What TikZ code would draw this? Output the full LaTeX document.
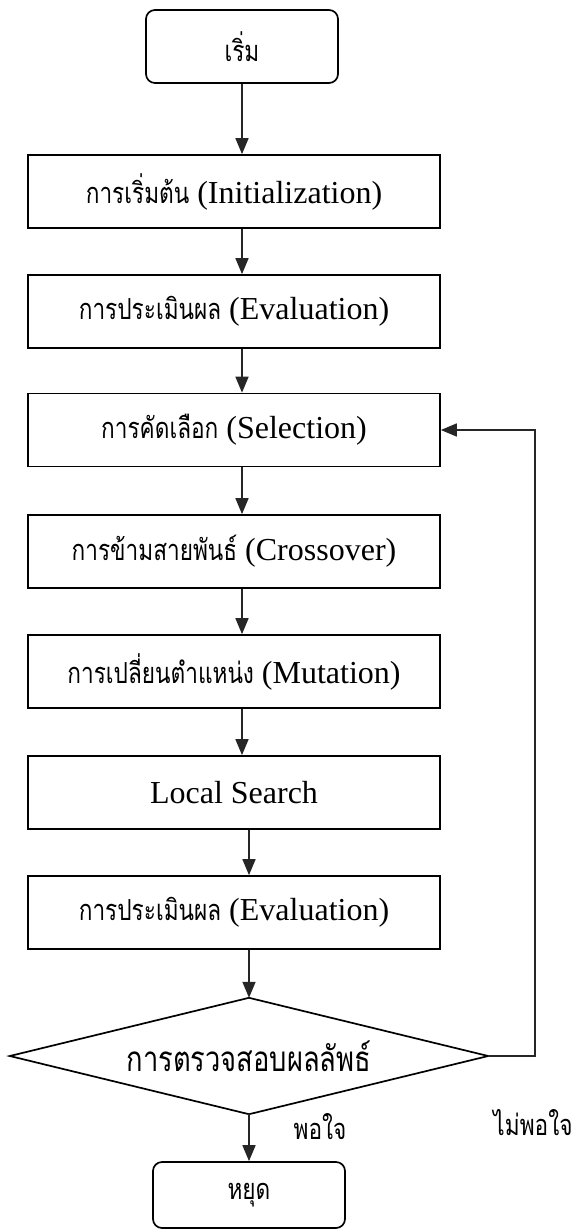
\documentclass[tikz,border=0pt]{standalone}
\usepackage{fontspec}
\setmainfont{Liberation Serif}
\newfontfamily\thai[Script=Thai,FakeStretch=0.78]{Loma}
\newcommand{\thsz}{\thai\fontsize{29}{34}\selectfont}
\usetikzlibrary{arrows.meta,calc}
\begin{document}
\begin{tikzpicture}[x=1pt,y=-1pt,
  font=\fontsize{32}{37}\selectfont,
  proc/.style={draw,line width=1.7pt,minimum width=412pt,minimum height=73pt,inner sep=0pt},
  term/.style={draw,line width=1.7pt,rounded corners=9pt,minimum width=192pt,inner sep=0pt},
  arr/.style={line width=1.7pt,draw=black!85,-{Triangle[length=16pt,width=13pt]}},
  th/.style={font=\thsz}]
\useasboundingbox (0,0) rectangle (571,1231);
\node[term,minimum height=73pt,th] (start) at (242,46.5) {เริ่ม};
\node[proc] (b1) at (234,191.5) {{\thsz การเริ่มต้น} (Initialization)};
\node[proc] (b2) at (234,311.5) {{\thsz การประเมินผล} (Evaluation)};
\node[proc] (b3) at (234,430) {{\thsz การคัดเลือก} (Selection)};
\node[proc] (b4) at (234,551.5) {{\thsz การข้ามสายพันธ์} (Crossover)};
\node[proc] (b5) at (234,671.5) {{\thsz การเปลี่ยนตำแหน่ง} (Mutation)};
\node[proc] (b6) at (234,792.5) {Local Search};
\node[proc] (b7) at (234,912.5) {{\thsz การประเมินผล} (Evaluation)};
\node[minimum width=478pt,minimum height=116pt,inner sep=0pt,font=\thai\fontsize{35}{40}\selectfont] (d) at (249,1056) {การตรวจสอบผลลัพธ์};
\draw[line width=1.7pt,line join=miter] (d.west) -- (d.north) -- (d.east) -- (d.south) -- cycle;
\node[term,minimum height=66pt,th] (stop) at (249,1195) {หยุด};
\node[th] (no) at (533,1123) {ไม่พอใจ};
\node[th] (yes) at (320,1127) {พอใจ};
\coordinate (lp) at (535,430);
\draw[arr] (start.south) -- (start.south |- b1.north);
\draw[arr] (b1.south -| start) -- (b2.north -| start);
\draw[arr] (b2.south -| start) -- (b3.north -| start);
\draw[arr] (b3.south -| start) -- (b4.north -| start);
\draw[arr] (b4.south -| start) -- (b5.north -| start);
\draw[arr] (b5.south -| start) -- (b6.north -| start);
\draw[arr] (b6.south -| d) -- (b7.north -| d);
\draw[arr] (b7.south -| d) -- (d.north);
\draw[arr] (d.south) -- (stop.north);
\draw[arr] (d.east) -| (lp) -- (b3.east);
\end{tikzpicture}
\end{document}
